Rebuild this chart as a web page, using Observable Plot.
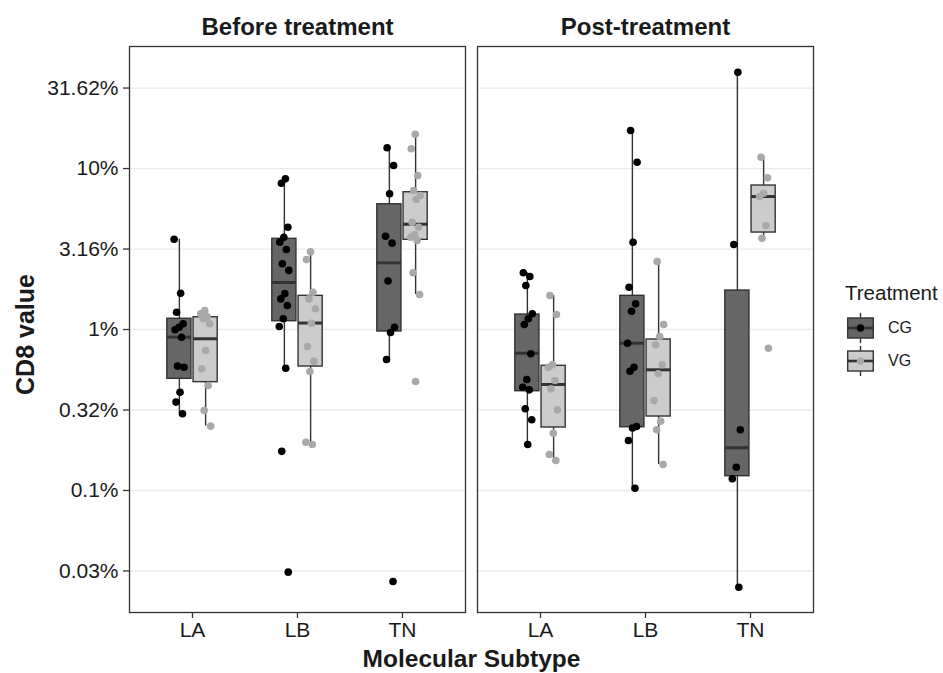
<!DOCTYPE html>
<html><head><meta charset="utf-8">
<script src="https://cdn.jsdelivr.net/npm/d3@7"></script>
<script src="https://cdn.jsdelivr.net/npm/@observablehq/plot@0.6"></script>
<style>
body{margin:0;background:#fff;font-family:"Liberation Sans",Arial,sans-serif;}
#wrap{position:relative;width:943px;height:673px;overflow:hidden;}
#wrap svg{position:absolute;left:0;top:0;}
.lg{position:absolute;color:#1a1a1a;white-space:nowrap;}
</style></head><body><div id="wrap"></div>
<script>
const phases = ["Before treatment", "Post-treatment"];
const subtypes = ["LA", "LB", "TN"];
const groups = ["CG", "VG"];
const yTickExponents = [1.5, 1, 0.5, 0, -0.5, -1, -1.5];
const yTickLabels = ["31.62%", "10%", "3.16%", "1%", "0.32%", "0.1%", "0.03%"];

// CD8 values (%) of individual samples
const beforeCG = {
  LA: [3.64, 1.68, 1.28, 1.085, 1.033, 0.996, 0.896, 0.592, 0.583, 0.408, 0.354, 0.300],
  LB: [8.63, 8.10, 4.32, 3.74, 3.49, 3.14, 2.56, 2.33, 1.67, 1.55, 1.41, 1.166, 1.044, 0.575, 0.175, 0.0311],
  TN: [13.45, 10.44, 6.97, 3.80, 3.44, 2.00, 1.033, 0.958, 0.651, 0.0272]
};
const beforeVG = {
  LA: [1.31, 1.25, 1.20, 1.166, 1.085, 0.741, 0.570, 0.449, 0.314, 0.251],
  LB: [3.04, 2.72, 1.705, 1.55, 1.345, 1.094, 0.784, 0.636, 0.548, 0.1995, 0.193],
  TN: [16.33, 13.26, 9.05, 7.30, 6.80, 6.42, 4.64, 4.32, 3.875, 3.74, 3.57, 2.25, 1.65, 0.475]
};
const postCG = {
  LA: [2.25, 2.134, 1.876, 1.252, 1.166, 1.074, 0.707, 0.489, 0.438, 0.422, 0.322, 0.275, 0.193],
  LB: [17.22, 10.94, 3.485, 1.831, 1.444, 1.299, 0.822, 0.583, 0.551, 0.2497, 0.2444, 0.2044, 0.1033],
  TN: [39.63, 3.373, 0.2382, 0.1395, 0.1182, 0.02507]
};
const postVG = {
  LA: [1.626, 1.239, 0.604, 0.583, 0.482, 0.428, 0.317, 0.227, 0.1674, 0.1536],
  LB: [2.645, 1.074, 0.905, 0.8035, 0.6036, 0.531, 0.362, 0.2695, 0.2382, 0.145],
  TN: [11.75, 8.756, 7.023, 6.70, 4.426, 3.69, 0.7656]
};

// Box summaries (%), order: phase > subtype > group
const boxLow  = [0.300, 0.251, 0.575, 0.193, 0.651, 1.65, 0.193, 0.1536, 0.1033, 0.145, 0.02507, 3.69];
const boxQ1   = [0.494, 0.471, 1.126, 0.589, 0.972, 3.607, 0.4137, 0.2462, 0.2472, 0.2881, 0.1227, 4.004];
const boxMed  = [0.896, 0.876, 1.958, 1.097, 2.596, 4.509, 0.7125, 0.4553, 0.822, 0.562, 0.1842, 6.70];
const boxQ3   = [1.166, 1.192, 3.66, 1.619, 6.0, 7.124, 1.239, 0.595, 1.619, 0.867, 1.747, 7.843];
const boxHigh = [3.64, 1.31, 8.63, 3.04, 13.45, 16.33, 2.25, 1.626, 17.22, 2.645, 39.63, 11.75];

const byPhase = {
  "Before treatment": {CG: beforeCG, VG: beforeVG},
  "Post-treatment": {CG: postCG, VG: postVG}
};
const dodge = 0.125, halfBox = 0.115;
const points = [], boxes = [];
let k = 0, b = 0;
for (const phase of phases) {
  subtypes.forEach((st, si) => {
    groups.forEach((g, gi) => {
      const xc = si + 1 + (gi ? dodge : -dodge);
      boxes.push({phase, subtype: st, group: g, xc,
        lo: boxLow[b], q1: boxQ1[b], med: boxMed[b], q3: boxQ3[b], hi: boxHigh[b]});
      b++;
      byPhase[phase][g][st].forEach(v => {
        const jit = (((k * 0.6180339887) % 1) - 0.5) * 0.1; k++;
        points.push({phase, subtype: st, group: g, value: v, x: xc + jit});
      });
    });
  });
}

const yTicks = yTickExponents.map(e => 10 ** e);
const tickLabel = new Map(yTicks.map((t, i) => [t, yTickLabels[i]]));
const fillOf = {CG: "#666666", VG: "#cccccc"};
const dotOf = {CG: "#000000", VG: "#a9a9a9"};
const ink = "#1a1a1a", line = "#333333";

const chart = Plot.plot({
  width: 943, height: 673,
  marginLeft: 129, marginRight: 130, marginTop: 46, marginBottom: 61,
  style: {fontFamily: '"Liberation Sans", Arial, sans-serif', fontSize: "21px", color: ink, background: "#fff"},
  fx: {domain: phases, paddingInner: 12 / 348, paddingOuter: 0, round: false, axis: null, label: null},
  x: {type: "linear", domain: [0.4, 3.6], axis: null},
  y: {type: "log", domain: [0.01746, 57.3], axis: null},
  color: {type: "identity"},
  marks: [
    Plot.ruleY(yTicks, {stroke: "#ebebeb", strokeWidth: 1.3}),
    Plot.ruleX(boxes, {fx: "phase", x: "xc", y1: "lo", y2: "hi", stroke: line, strokeWidth: 1.4}),
    Plot.rect(boxes, {fx: "phase", x1: d => d.xc - halfBox, x2: d => d.xc + halfBox, y1: "q1", y2: "q3",
      fill: d => fillOf[d.group], stroke: line, strokeWidth: 1.4}),
    Plot.ruleY(boxes, {fx: "phase", y: "med", x1: d => d.xc - halfBox, x2: d => d.xc + halfBox, stroke: line, strokeWidth: 3}),
    Plot.dot(points, {fx: "phase", x: "x", y: "value", r: 3.8, fill: d => dotOf[d.group], stroke: null}),
    Plot.frame({stroke: line, strokeWidth: 1.3}),
    Plot.axisY({ticks: yTicks, tickFormat: t => tickLabel.get(t), tickSize: 6, tickPadding: 5, fontSize: 21, label: null, stroke: line, strokeWidth: 1.3}),
    Plot.axisX({ticks: [1, 2, 3], tickFormat: t => subtypes[t - 1], tickSize: 6, tickPadding: 4, fontSize: 21, label: null, stroke: line, strokeWidth: 1.3}),
    Plot.text(phases, {fx: d => d, text: d => d, frameAnchor: "top", dy: -19, lineAnchor: "middle", textAnchor: "middle", fontSize: 24, fontWeight: "bold", fill: ink}),
    Plot.text(["CD8 value"], {fx: () => phases[0], text: d => d, frameAnchor: "left", dx: -104, dy: 5, rotate: -90, lineAnchor: "middle", textAnchor: "middle", fontSize: 25, fontWeight: "bold", fill: ink}),
    Plot.text(["Molecular Subtype"], {fx: () => phases[1], text: d => d, frameAnchor: "bottom-left", dx: -6, dy: 47, lineAnchor: "middle", textAnchor: "middle", fontSize: 24.5, fontWeight: "bold", fill: ink})
  ]
});
const wrap = document.getElementById("wrap");
wrap.appendChild(chart);

// legend
function keySvg(g) {
  return `<svg width="27" height="30" viewBox="0 0 27 30">
    <line x1="13.5" y1="0" x2="13.5" y2="30" stroke="#333" stroke-width="1.4"/>
    <rect x="0.7" y="5" width="25.6" height="20" fill="${fillOf[g]}" stroke="#333" stroke-width="1.4"/>
    <line x1="0.7" y1="15" x2="26.3" y2="15" stroke="#333" stroke-width="2.6"/>
    <circle cx="13.5" cy="15" r="3.7" fill="${dotOf[g]}"/>
  </svg>`;
}
const leg = [];
leg.push(`<div class="lg" style="left:845px;top:282px;font-size:20.5px;line-height:22px;">Treatment</div>`);
groups.forEach((g, i) => {
  const cy = 328 + i * 32.5;
  leg.push(`<div class="lg" style="left:847px;top:${cy - 15}px;width:27px;height:30px;">${keySvg(g)}</div>`);
  leg.push(`<div class="lg" style="left:888px;top:${cy - 9}px;font-size:16px;line-height:18px;">${g}</div>`);
});
wrap.insertAdjacentHTML("beforeend", leg.join(""));
</script></body></html>
